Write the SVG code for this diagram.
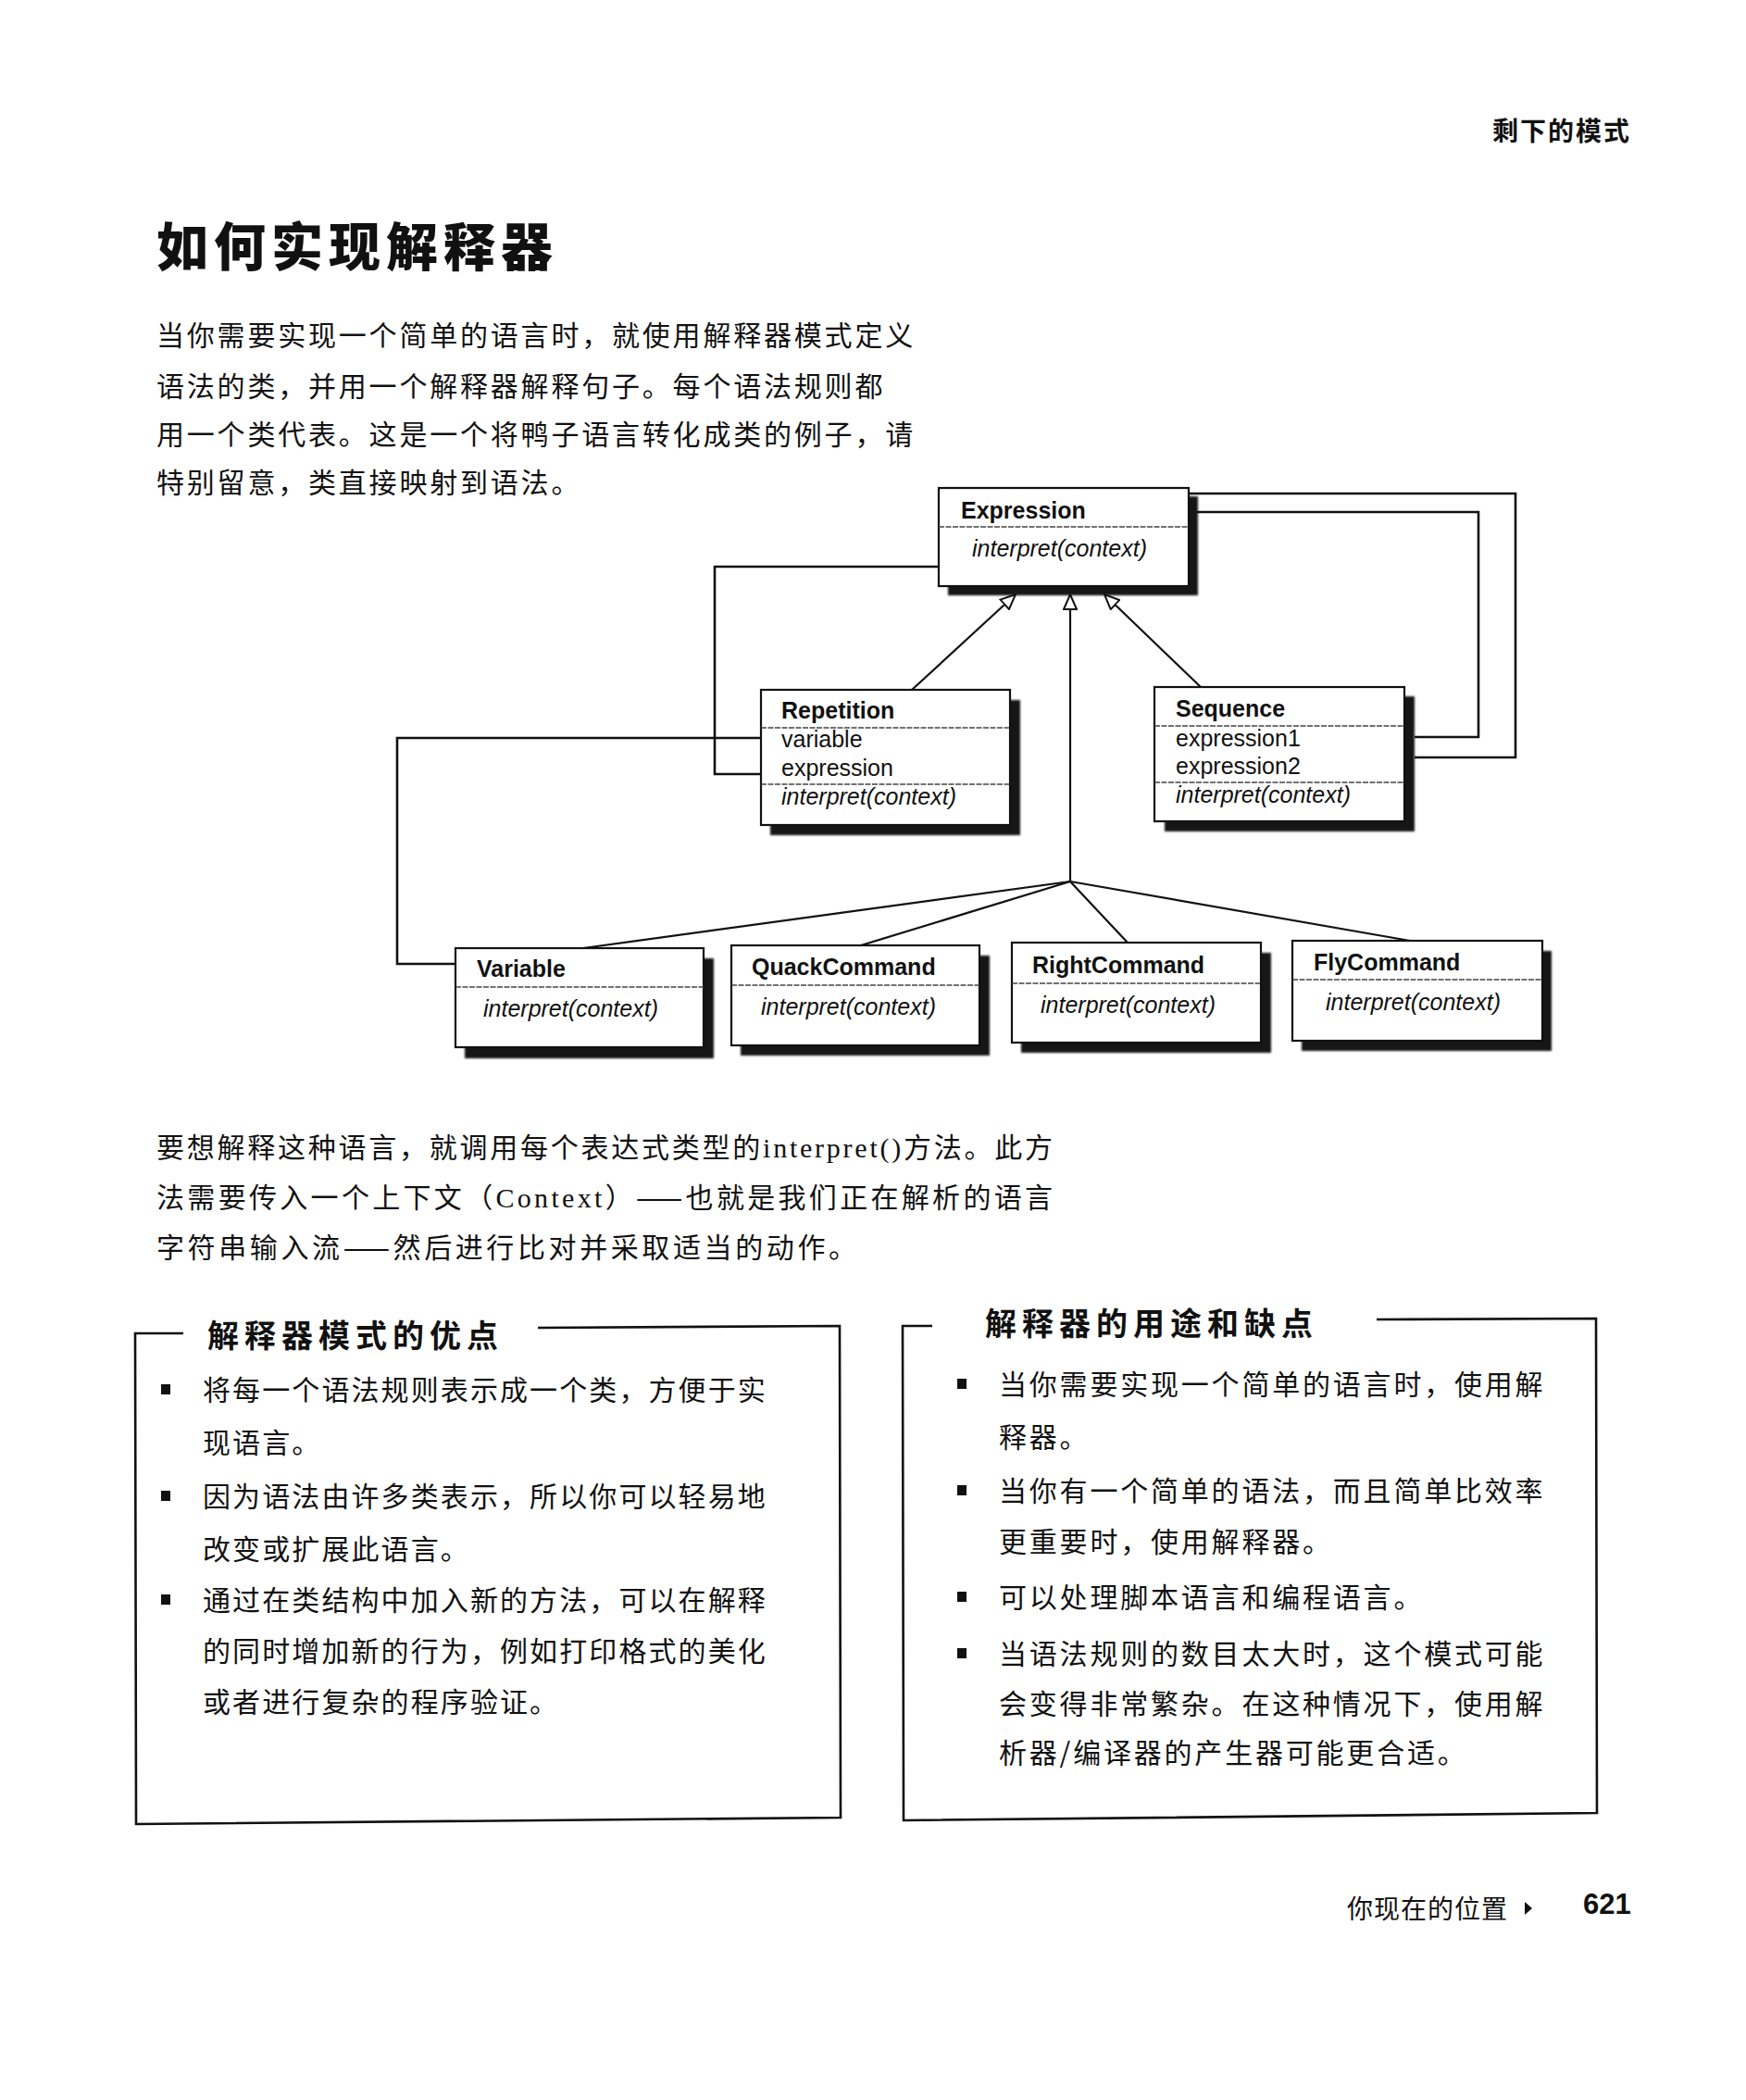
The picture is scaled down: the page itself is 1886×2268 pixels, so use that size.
<svg xmlns="http://www.w3.org/2000/svg" width="1886" height="2268" viewBox="0 0 1886 2268">
<style>
.bg{fill:#ffffff}
.box{fill:#ffffff;stroke:#111;stroke-width:2.2}
.sh{fill:#141414}
.dv{stroke:#444;stroke-width:1.6;stroke-dasharray:6 1.5}
.t{font-family:"Liberation Sans",Arial,sans-serif;font-weight:bold;font-size:25px;fill:#111}
.a{font-family:"Liberation Sans",Arial,sans-serif;font-size:25px;fill:#111}
.m{font-family:"Liberation Sans",Arial,sans-serif;font-style:italic;font-size:25px;fill:#111}
.conn{fill:none;stroke:#111;stroke-width:2.6}
.gen{fill:none;stroke:#111;stroke-width:2.2}
.cn{font-family:"Noto Sans CJK SC",sans-serif;font-size:30px;fill:#111}
.p1{letter-spacing:2.8px}
.pl{letter-spacing:2.1px}
.pr{letter-spacing:2.8px}
.hd{font-family:"Noto Sans CJK SC",sans-serif;font-weight:700;font-size:34px;letter-spacing:6px;fill:#111}
.frame{fill:none;stroke:#111;stroke-width:2.6}
.bul{fill:#111}
</style>
<defs>
<filter id="blur" x="-5%" y="-5%" width="110%" height="110%"><feGaussianBlur stdDeviation="1.2"/></filter>
<marker id="tri" viewBox="0 0 18 16" refX="17" refY="8" markerWidth="18" markerHeight="16" markerUnits="userSpaceOnUse" orient="auto">
<path d="M1,1 L17,8 L1,15 Z" fill="#ffffff" stroke="#111" stroke-width="2"/>
</marker>
</defs>
<rect class="bg" x="0" y="0" width="1886" height="2268"/>

<g id="header">
<text x="1612" y="152" font-family="Noto Sans CJK SC, sans-serif" font-weight="700" font-size="28" letter-spacing="2" fill="#111">剩下的模式</text>
</g>
<g id="title">
<text x="169" y="287" font-family="Noto Sans CJK SC, sans-serif" font-weight="900" font-size="56" letter-spacing="6" fill="#111">如何实现解释器</text>
</g>
<g id="intro">
<text class="cn p1" x="169" y="373">当你需要实现一个简单的语言时，就使用解释器模式定义</text>
<text class="cn p1" x="169" y="428">语法的类，并用一个解释器解释句子。每个语法规则都</text>
<text class="cn p1" x="169" y="480">用一个类代表。这是一个将鸭子语言转化成类的例子，请</text>
<text class="cn p1" x="169" y="532">特别留意，类直接映射到语法。</text>
</g>

<g id="connectors">
<path class="conn" d="M1014,612 H772 V836 H822"/>
<path class="conn" d="M822,797 H429 V1041 H492"/>
<path class="conn" d="M1528,796 H1597 V553 H1292"/>
<path class="conn" d="M1528,818 H1637 V533 H1284"/>
<line class="gen" x1="985" y1="745" x2="1097" y2="642" marker-end="url(#tri)"/>
<line class="gen" x1="1297" y1="742" x2="1193" y2="642" marker-end="url(#tri)"/>
<line class="gen" x1="1156" y1="952" x2="1156" y2="642" marker-end="url(#tri)"/>
<line class="gen" x1="1156" y1="952" x2="630" y2="1024"/>
<line class="gen" x1="1156" y1="952" x2="930" y2="1021"/>
<line class="gen" x1="1156" y1="952" x2="1218" y2="1018"/>
<line class="gen" x1="1156" y1="952" x2="1523" y2="1016"/>
</g>

<g id="Expression">
<rect class="sh" x="1024" y="536" width="270" height="107" filter="url(#blur)"/>
<rect class="box" x="1014" y="527" width="270" height="106"/>
<line class="dv" x1="1014" y1="569" x2="1284" y2="569"/>
<text class="t" x="1038" y="560">Expression</text>
<text class="m" x="1050" y="601">interpret(context)</text>
</g>

<g id="Repetition">
<rect class="sh" x="832" y="756" width="270" height="146" filter="url(#blur)"/>
<rect class="box" x="822" y="745" width="269" height="146"/>
<line class="dv" x1="822" y1="786" x2="1091" y2="786"/>
<line class="dv" x1="822" y1="847" x2="1091" y2="847"/>
<text class="t" x="844" y="776">Repetition</text>
<text class="a" x="844" y="807">variable</text>
<text class="a" x="844" y="838">expression</text>
<text class="m" x="844" y="869">interpret(context)</text>
</g>

<g id="Sequence">
<rect class="sh" x="1258" y="752" width="270" height="146" filter="url(#blur)"/>
<rect class="box" x="1247" y="742" width="270" height="145"/>
<line class="dv" x1="1247" y1="784" x2="1517" y2="784"/>
<line class="dv" x1="1247" y1="845" x2="1517" y2="845"/>
<text class="t" x="1270" y="774">Sequence</text>
<text class="a" x="1270" y="806">expression1</text>
<text class="a" x="1270" y="836">expression2</text>
<text class="m" x="1270" y="867">interpret(context)</text>
</g>

<g id="Variable">
<rect class="sh" x="502" y="1035" width="269" height="108" filter="url(#blur)"/>
<rect class="box" x="492" y="1024" width="268" height="107"/>
<line class="dv" x1="492" y1="1066" x2="760" y2="1066"/>
<text class="t" x="515" y="1055">Variable</text>
<text class="m" x="522" y="1098">interpret(context)</text>
</g>

<g id="QuackCommand">
<rect class="sh" x="800" y="1032" width="269" height="108" filter="url(#blur)"/>
<rect class="box" x="790" y="1021" width="268" height="108"/>
<line class="dv" x1="790" y1="1064" x2="1058" y2="1064"/>
<text class="t" x="812" y="1053">QuackCommand</text>
<text class="m" x="822" y="1096">interpret(context)</text>
</g>

<g id="RightCommand">
<rect class="sh" x="1103" y="1029" width="270" height="108" filter="url(#blur)"/>
<rect class="box" x="1093" y="1018" width="269" height="108"/>
<line class="dv" x1="1093" y1="1062" x2="1362" y2="1062"/>
<text class="t" x="1115" y="1051">RightCommand</text>
<text class="m" x="1124" y="1094">interpret(context)</text>
</g>

<g id="FlyCommand">
<rect class="sh" x="1406" y="1027" width="270" height="108" filter="url(#blur)"/>
<rect class="box" x="1396" y="1016" width="270" height="108"/>
<line class="dv" x1="1396" y1="1058" x2="1666" y2="1058"/>
<text class="t" x="1419" y="1048">FlyCommand</text>
<text class="m" x="1432" y="1091">interpret(context)</text>
</g>

<g id="para2">
<text class="cn" x="169" y="1250" textLength="968" lengthAdjust="spacing">要想解释这种语言，就调用每个表达式类型的<tspan font-family="Liberation Serif, serif">interpret()</tspan>方法。此方</text>
<text class="cn" x="169" y="1304" textLength="968" lengthAdjust="spacing">法需要传入一个上下文（<tspan font-family="Liberation Serif, serif">Context</tspan>）——也就是我们正在解析的语言</text>
<text class="cn" x="169" y="1358" textLength="756" lengthAdjust="spacing">字符串输入流——然后进行比对并采取适当的动作。</text>
</g>

<g id="benefits">
<path class="frame" d="M198,1440 L146,1440 L147,1970 L908,1963 L907,1432 L581,1434"/>
<text class="hd" x="224" y="1455">解释器模式的优点</text>
<rect class="bul" x="174" y="1495" width="10" height="11"/>
<rect class="bul" x="174" y="1610" width="10" height="11"/>
<rect class="bul" x="174" y="1722" width="10" height="11"/>
<text class="cn pl" x="219" y="1512">将每一个语法规则表示成一个类，方便于实</text>
<text class="cn pl" x="219" y="1569">现语言。</text>
<text class="cn pl" x="219" y="1627">因为语法由许多类表示，所以你可以轻易地</text>
<text class="cn pl" x="219" y="1684">改变或扩展此语言。</text>
<text class="cn pl" x="219" y="1739">通过在类结构中加入新的方法，可以在解释</text>
<text class="cn pl" x="219" y="1794">的同时增加新的行为，例如打印格式的美化</text>
<text class="cn pl" x="219" y="1849">或者进行复杂的程序验证。</text>
</g>

<g id="uses">
<path class="frame" d="M1007,1432 L975,1432 L976,1966 L1725,1958 L1724,1424 L1487,1425"/>
<text class="hd" x="1064" y="1442">解释器的用途和缺点</text>
<rect class="bul" x="1034" y="1489" width="10" height="11"/>
<rect class="bul" x="1034" y="1604" width="10" height="11"/>
<rect class="bul" x="1034" y="1719" width="10" height="11"/>
<rect class="bul" x="1034" y="1780" width="10" height="11"/>
<text class="cn pr" x="1079" y="1506">当你需要实现一个简单的语言时，使用解</text>
<text class="cn pr" x="1079" y="1563">释器。</text>
<text class="cn pr" x="1079" y="1621">当你有一个简单的语法，而且简单比效率</text>
<text class="cn pr" x="1079" y="1676">更重要时，使用解释器。</text>
<text class="cn pr" x="1079" y="1736">可以处理脚本语言和编程语言。</text>
<text class="cn pr" x="1079" y="1797">当语法规则的数目太大时，这个模式可能</text>
<text class="cn pr" x="1079" y="1851">会变得非常繁杂。在这种情况下，使用解</text>
<text class="cn pr" x="1079" y="1904">析器/编译器的产生器可能更合适。</text>
</g>

<g id="footer">
<text x="1455" y="2072" font-family="Noto Sans CJK SC, sans-serif" font-size="28" letter-spacing="1" fill="#111">你现在的位置</text>
<polygon points="1647,2054 1655,2061 1647,2068" fill="#111"/>
<text x="1710" y="2067" font-family="Liberation Sans, Arial, sans-serif" font-weight="bold" font-size="31" fill="#111">621</text>
</g>
</svg>
